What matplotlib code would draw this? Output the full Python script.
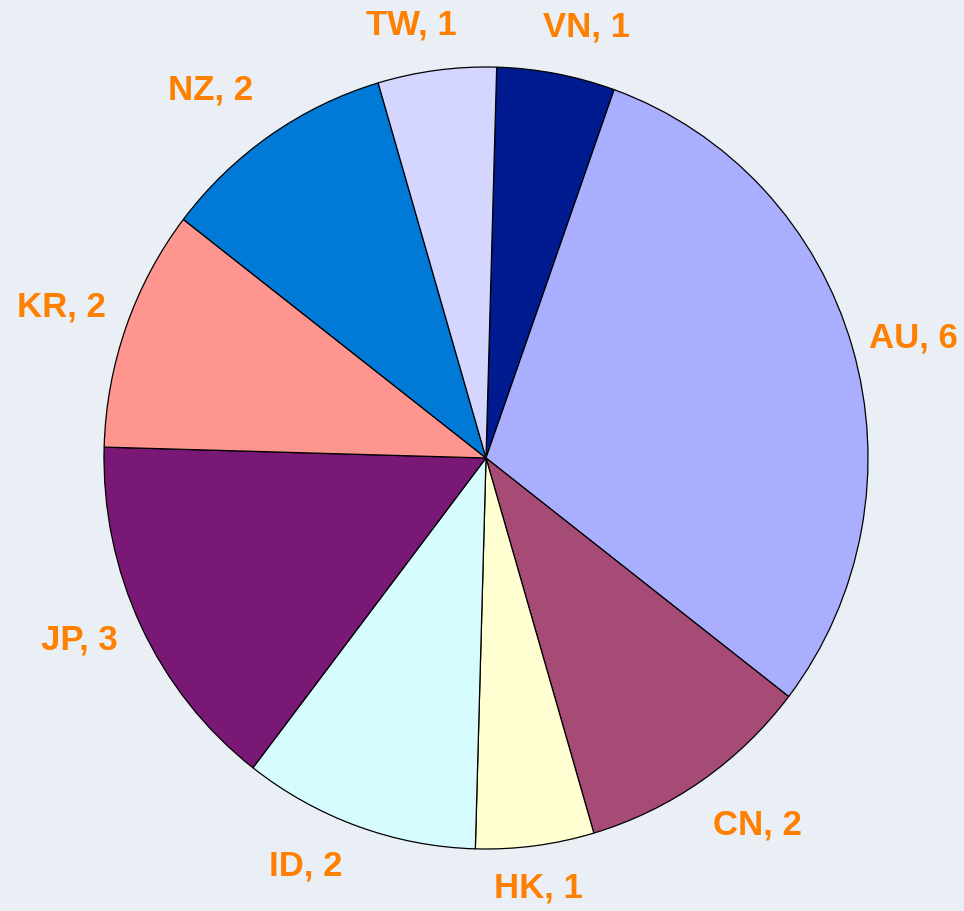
import matplotlib
matplotlib.use("Agg")
import matplotlib.pyplot as plt
import numpy as np

countries = ["VN", "AU", "CN", "HK", "ID", "JP", "KR", "NZ", "TW"]
values = [1, 6, 2, 1, 2, 3, 2, 2, 1]
colors = ["#001A8F", "#AAAEFF", "#A64A76", "#FFFFD2", "#D6FCFF",
          "#7A1875", "#FF958F", "#007AD6", "#D5D6FF"]
# label anchor positions (pixel coords, from top-left)
label_px = [(587, 27), (913, 338), (757, 825), (538, 888), (306, 866),
            (79, 640), (61, 307), (211, 90), (411, 25)]

W, H = 964, 912
fig = plt.figure(figsize=(W / 100, H / 100), dpi=100)
fig.patch.set_facecolor("#E9EFF5")
ax = fig.add_axes([0, 0, 1, 1])
ax.set_facecolor("#E9EFF5")

cx, cy, rx, ry = 486, 459, 382, 391
ax.pie(values, colors=colors, startangle=88.4, counterclock=False,
       radius=1, center=(0, 0),
       wedgeprops=dict(edgecolor="black", linewidth=0.9))
ax.set_aspect("auto")
ax.set_xlim(-cx / rx, (W - cx) / rx)
ax.set_ylim(-(H - cy) / ry, cy / ry)
ax.axis("off")

for name, v, (px, py) in zip(countries, values, label_px):
    x = (px - cx) / rx
    y = (cy - py) / ry
    ax.text(x, y, f"{name}, {v}", ha="center", va="center",
            fontsize=25, fontweight="bold", color="#FF7F00",
            family=["Liberation Sans", "DejaVu Sans"])

fig.savefig("out.png", dpi=100, facecolor=fig.get_facecolor())
